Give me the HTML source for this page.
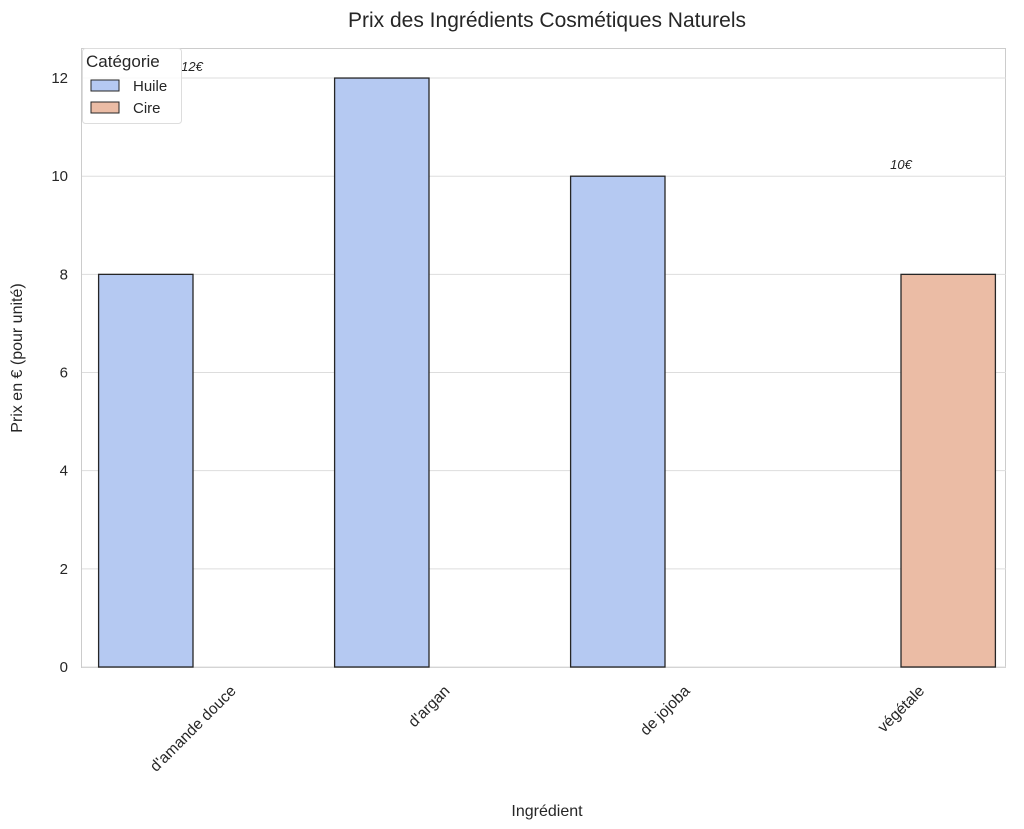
<!DOCTYPE html>
<html><head><meta charset="utf-8"><style>body{margin:0;background:#fff}svg{display:block;font-family:"Liberation Sans","DejaVu Sans",sans-serif}</style></head>
<body>
<svg id="chart" width="1024" height="829" viewBox="0 0 1024 829">
<text x="547" y="27" text-anchor="middle" font-size="21" fill="#262626">Prix des Ingrédients Cosmétiques Naturels</text>
<rect x="81.5" y="48.5" width="924" height="619" fill="none" stroke="#ccc"/>
<g id="grid"></g><g id="bars"></g><g id="xt"></g>
<text x="547" y="816" text-anchor="middle" font-size="16" fill="#262626">Ingrédient</text>
<text transform="translate(22,358) rotate(-90)" text-anchor="middle" font-size="16" fill="#262626">Prix en € (pour unité)</text>
<text x="192" y="71" text-anchor="middle" font-size="13" font-style="italic" fill="#262626">12€</text>
<text x="901" y="169" text-anchor="middle" font-size="13" font-style="italic" fill="#262626">10€</text>
<g>
<rect x="82.5" y="48.5" width="99" height="75" rx="3" fill="#fff" fill-opacity="0.85" stroke="#ddd"/>
<text x="86" y="67" font-size="17" fill="#262626">Catégorie</text>
<rect x="91" y="80" width="28" height="11" fill="#b5c9f2" stroke="#262626"/>
<text x="133" y="91" font-size="15" fill="#262626">Huile</text>
<rect x="91" y="102" width="28" height="11" fill="#ebbca5" stroke="#262626"/>
<text x="133" y="113" font-size="15" fill="#262626">Cire</text>
</g>
</svg>
<script>
const categories=["d'amande douce","d'argan","de jojoba","végétale"];
const series=["Huile","Cire"];
const values=[8,12,10,8];
const seriesOf=["Huile","Huile","Huile","Cire"];
const yTicks=[0,2,4,6,8,10,12];
const colors={Huile:"#b5c9f2",Cire:"#ebbca5"};
const NS="http://www.w3.org/2000/svg";
const y=v=>667-v*49.08;
const xc=i=>193+236*i;
const bw=94.4;
function mk(t,a,p){const e=document.createElementNS(NS,t);for(const k in a)e.setAttribute(k,a[k]);p.appendChild(e);return e;}
const g=document.getElementById('grid');
yTicks.forEach(t=>{
 const l=mk('line',{x1:82,x2:1006,y1:y(t),y2:y(t),stroke:'#ddd','stroke-width':1},g);
 
 
 const tx=mk('text',{x:68,y:y(t)+5,'text-anchor':'end','font-size':15,fill:'#262626'},g);
 tx.textContent=t;
 
 
});
const b=document.getElementById('bars');
values.forEach((v,i)=>{
 const s=seriesOf[i];const off=series.indexOf(s)===0?-bw:0;
 const r=mk('rect',{x:xc(i)+off,y:y(v),width:bw,height:y(0)-y(v),fill:colors[s],stroke:'#262626','stroke-width':1.3},b);
 
 
});
const xt=document.getElementById('xt');
categories.forEach((c,i)=>{
 const t=mk('text',{'text-anchor':'middle','font-size':15.5,fill:'#262626'},xt);
 t.textContent=c;
 const w=t.getComputedTextLength();
 const cy=679+(w+12)*0.707/2+5;
 t.setAttribute('transform',`translate(${xc(i)},${cy}) rotate(-45)`);
 t.setAttribute('dy','5');
 
 
});
</script>
</body></html>
